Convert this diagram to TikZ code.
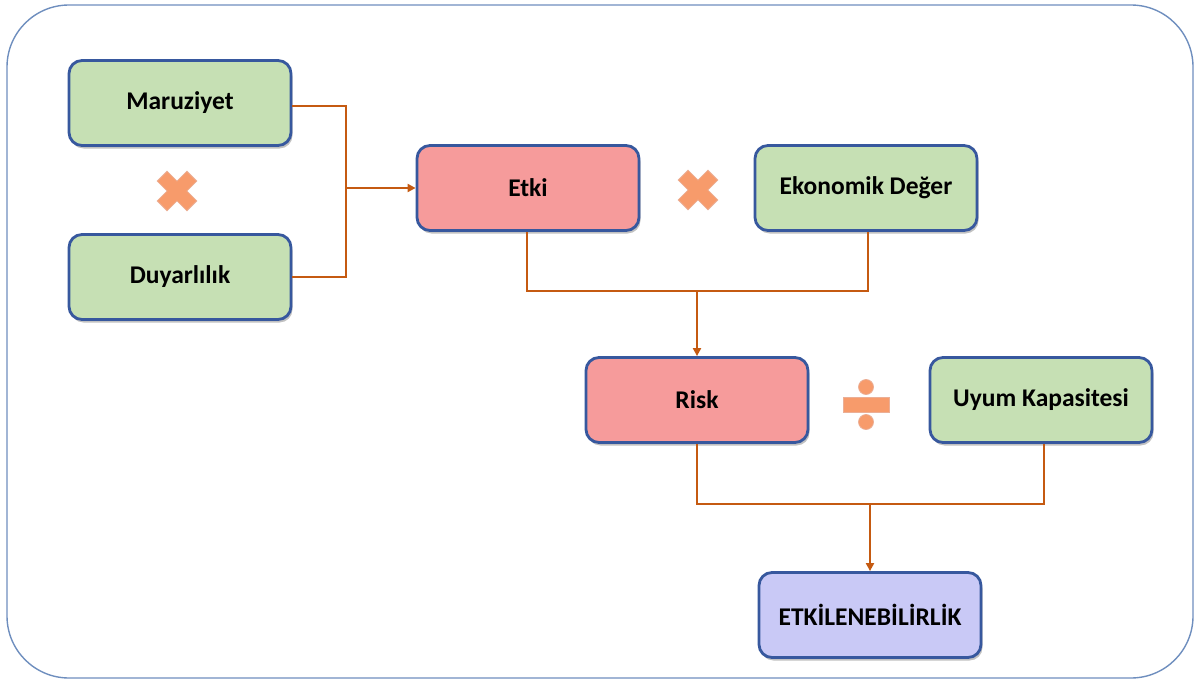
\documentclass[tikz,border=0pt]{standalone}
\usepackage{fontspec}
\setmainfont{Carlito}
\usetikzlibrary{arrows.meta,shadows,calc}
\definecolor{bxborder}{RGB}{55,88,158}
\definecolor{bxgreen}{RGB}{198,224,180}
\definecolor{bxred}{RGB}{246,155,155}
\definecolor{bxpurple}{RGB}{201,201,246}
\definecolor{connc}{RGB}{197,90,17}
\definecolor{opfill}{RGB}{247,155,107}
\definecolor{opline}{RGB}{235,175,150}
\definecolor{outerc}{RGB}{110,142,190}
\tikzset{
  box/.style={draw=bxborder, line width=2.8pt, rounded corners=13pt,
    minimum width=222pt, minimum height=85pt, inner sep=0pt,
    font=\fontsize{25.5}{30}\selectfont\bfseries,
    drop shadow={shadow xshift=1.5pt, shadow yshift=-3pt, opacity=0.35, fill=black!70}},
  gbox/.style={box, fill=bxgreen},
  rbox/.style={box, fill=bxred},
  pbox/.style={box, fill=bxpurple},
  conn/.style={draw=connc, line width=2.8pt},
  arr/.style={conn, -{Triangle[length=8pt,width=8pt]}},
  opsign/.style={fill=opfill, draw=opline, line width=0.8pt},
}
\newcommand{\crossop}[2]{%
  \path[opsign, shift={(#1,#2)}, rotate=45]
    (7,21) -- (7,7) -- (21,7) -- (21,-7) -- (7,-7) -- (7,-21) -- (-7,-21)
    -- (-7,-7) -- (-21,-7) -- (-21,7) -- (-7,7) -- (-7,21) -- cycle;}
\begin{document}
\begin{tikzpicture}[x=1pt,y=-1pt]
\useasboundingbox (0,0) rectangle (1196,682);
\draw[outerc, line width=1.4pt, rounded corners=62pt] (7,5) rectangle (1193,678);

\node[gbox] (mar) at (180,103) {Maruziyet};
\node[gbox] (duy) at (180,277) {Duyarlılık};
\node[rbox] (etki) at (528,188) {Etki};
\node[gbox] (eko) at (866,188) {Ekonomik Değer};
\node[rbox] (risk) at (697,400) {Risk};
\node[gbox] (uyum) at (1041,400) {Uyum Kapasitesi};
\node[pbox] (etk) at (870,615) {ETKİLENEBİLİRLİK};

\crossop{177}{191}
\crossop{698}{190}
\path[opsign] (843,397) rectangle (889,412);
\path[opsign] (866,387) circle (7.5);
\path[opsign] (866,422) circle (7.5);

\coordinate (j1) at (346,188);
\coordinate (j2) at (697,291);
\coordinate (j3) at (870,504);

\draw[conn] ($(mar.east)+(0,3)$) -| (j1) |- (duy.east);
\draw[arr] (j1) -- (etki.west);
\draw[conn] ($(etki.south)+(-1,0)$) |- (j2) -| ($(eko.south)+(2,0)$);
\draw[arr] (j2) -- (risk.north);
\draw[conn] (risk.south) |- (j3) -| ($(uyum.south)+(3,0)$);
\draw[arr] (j3) -- (etk.north);
\end{tikzpicture}
\end{document}
